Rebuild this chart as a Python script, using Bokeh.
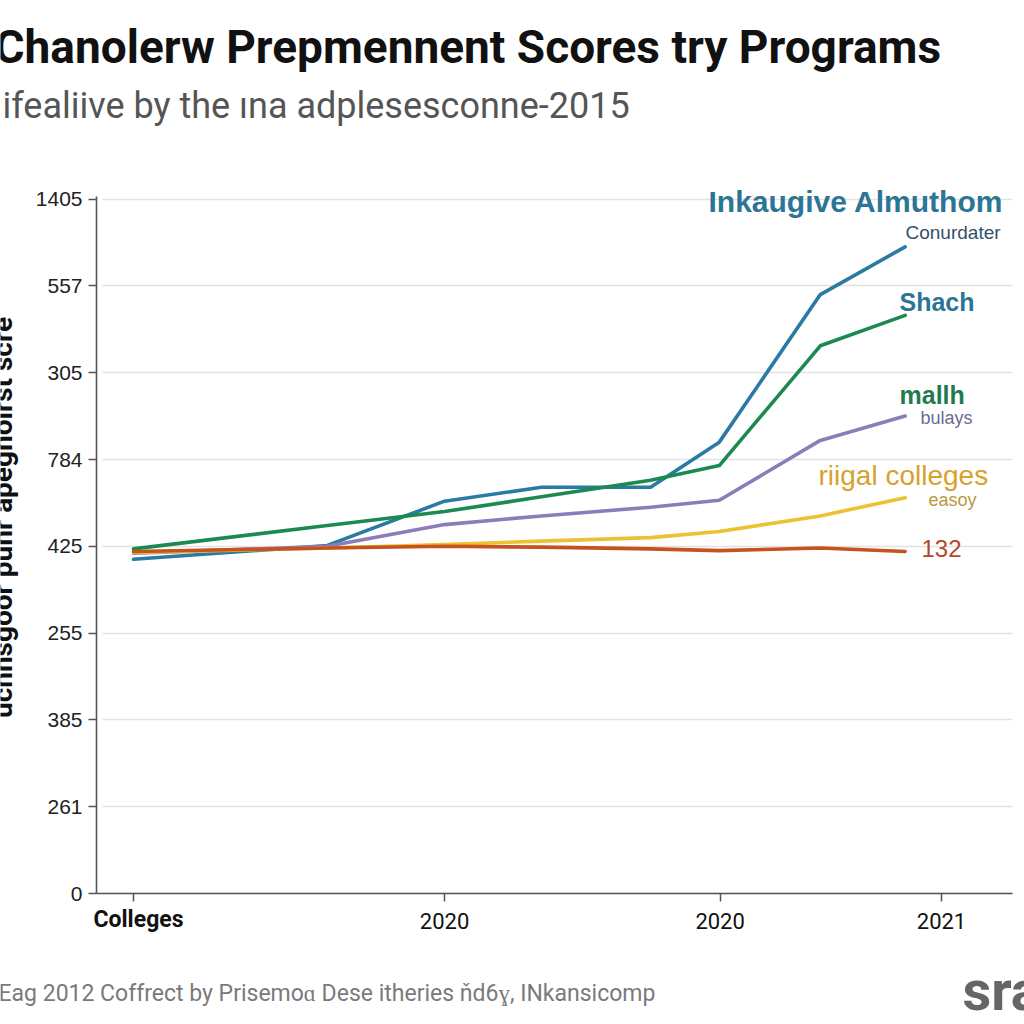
from bokeh.plotting import figure
from bokeh.models import Label, FixedTicker, Range1d
from bokeh.embed import file_html
from bokeh.resources import INLINE
import math

# ---------------- data ----------------
x_pos = [0, 24, 38.5, 50.5, 64, 72.5, 85, 95.5]
x_tick_pos = [0, 38.5, 72.6, 100]
x_tick_labels = ["Colleges", "2020", "2020", "2021"]
y_tick_pos = [0, 1, 2, 3, 4, 5, 6, 7, 8]
y_tick_labels = ["0", "261", "385", "255", "425", "784", "305", "557", "1405"]

blue = [3.85, 4.01, 4.52, 4.68, 4.68, 5.20, 6.90, 7.45]
green = [3.97, 4.24, 4.40, 4.57, 4.76, 4.93, 6.31, 6.66]
purple = [3.92, 4.00, 4.25, 4.35, 4.45, 4.53, 5.22, 5.50]
yellow = [3.93, 3.98, 4.02, 4.06, 4.10, 4.17, 4.35, 4.56]
red = [3.94, 3.98, 4.00, 3.99, 3.97, 3.95, 3.98, 3.94]

series = [
    ("blue", blue, "#2b7aa3"),
    ("green", green, "#1c8a50"),
    ("purple", purple, "#8b7db9"),
    ("yellow", yellow, "#ebc232"),
    ("red", red, "#c4531f"),
]

title = "Chanolerw Prepmennent Scores try Programs"
subtitle = "ifealiive by the \u0131na adplesesconne-2015"
y_label = "uchnsgoor punr apegnoirst scre"
footer = "Eag 2012 Coffrect by Prisemo\u0251 Dese itheries \u0148d6\u0263, INkansicomp"

# ---------------- layout (canvas pixels) ----------------
W, H = 1024, 1024
X0_PX, X_SCALE = 133.0, 8.08      # pixel of x=0, pixels per x unit
Y0_PX, Y_SCALE = 893.0, 86.8      # pixel of y=0, pixels per y unit
AX_LEFT_PX, AX_RIGHT_PX, AX_TOP_PX = 96.0, 1012.0, 196.0


def dx(px):
    return (px - X0_PX) / X_SCALE


def dy(py):
    return (Y0_PX - py) / Y_SCALE


p = figure(width=W, height=H, output_backend="svg", toolbar_location=None,
           title_location=None,
           x_range=Range1d(dx(0), dx(W)), y_range=Range1d(dy(H), dy(0)),
           min_border=0, min_border_left=0, min_border_right=0,
           min_border_top=0, min_border_bottom=0)
p.outline_line_color = None
p.background_fill_color = "white"
p.border_fill_color = "white"

for name, vals, col in series:
    p.line(x_pos, vals, line_color=col, line_width=3.6, line_join="round", line_cap="round")

p.xgrid.grid_line_color = None
p.ygrid.grid_line_color = "#e2e2e2"
p.ygrid.grid_line_width = 1.5
p.ygrid.ticker = FixedTicker(ticks=y_tick_pos)
g = p.ygrid[0]
if "cross_bounds" in g.properties():
    g.cross_bounds = (dx(AX_LEFT_PX + 6), dx(AX_RIGHT_PX))

ya = p.yaxis[0]
ya.fixed_location = dx(AX_LEFT_PX)
ya.bounds = (0, dy(AX_TOP_PX))
ya.ticker = FixedTicker(ticks=y_tick_pos)
ya.major_label_overrides = {t: l for t, l in zip(y_tick_pos, y_tick_labels)}
ya.minor_tick_line_color = None
ya.major_tick_out = 8
ya.major_tick_in = 0
ya.axis_line_color = "#555555"
ya.axis_line_width = 1.6
ya.major_tick_line_color = "#555555"
ya.major_tick_line_width = 1.5
ya.major_label_text_font = "Liberation Sans"
ya.major_label_text_font_size = "21px"
ya.major_label_text_color = "#222222"
ya.major_label_standoff = 6

xa = p.xaxis[0]
xa.fixed_location = 0
xa.bounds = (dx(AX_LEFT_PX), dx(AX_RIGHT_PX))
xa.ticker = FixedTicker(ticks=x_tick_pos)
xa.major_label_overrides = {t: (l if i > 0 else "") for i, (t, l) in enumerate(zip(x_tick_pos, x_tick_labels))}
xa.minor_tick_line_color = None
xa.major_tick_out = 8
xa.major_tick_in = 0
xa.axis_line_color = "#555555"
xa.axis_line_width = 1.6
xa.major_tick_line_color = "#555555"
xa.major_tick_line_width = 1.5
xa.major_label_text_font = "Roboto"
xa.major_label_text_font_size = "22px"
xa.major_label_text_color = "#111111"
xa.major_label_standoff = 11


def add_text(text, px, py, size, color, bold=False, align="left", baseline="middle",
             font="Liberation Sans", angle=0.0):
    # px, py: canvas pixel positions (frame == canvas), screen units from bottom-left
    p.add_layout(Label(x=px, y=H - py, x_units="screen", y_units="screen",
                       text=text, text_font_size=f"{size}px", text_color=color,
                       text_font_style="bold" if bold else "normal",
                       text_align=align, text_baseline=baseline, text_font=font,
                       angle=angle))


def add_base(text, px, base_py, size, color, **kw):
    # place text by its visual baseline (compensates the renderer's baseline offset)
    add_text(text, px, base_py - 0.4 * size, size, color, baseline="alphabetic", **kw)


add_base(title, -6, 65, 46, "#111111", bold=True, font="Roboto")
add_base(subtitle, 2, 120, 36, "#555555", font="Roboto")
add_text(y_label, 2, 517, 28, "#111111", bold=True, align="center",
         baseline="alphabetic", angle=math.pi / 2, font="Roboto")
add_base("Colleges", 93, 928, 23, "#111111", bold=True, font="Roboto")

add_text("Inkaugive Almuthom", 708, 201, 30, "#2b7597", bold=True)
add_text("Conurdater", 905, 232, 19, "#34506a")
add_text("Shach", 899, 301, 25, "#2b7597", bold=True)
add_text("mallh", 899, 394, 25, "#1f7a4f", bold=True)
add_text("bulays", 920, 417, 18, "#6c6a98")
add_text("riigal colleges", 818, 475, 28, "#d6a22e")
add_text("easoy", 928, 499, 18, "#b89a40")
add_text("132", 921, 548, 24, "#b5462a")

add_base(footer, -2, 1002, 23, "#7a7a7a", font="Roboto")
add_base("sra", 962, 1013, 56, "#666666", bold=True, font="Roboto")

open("out.html", "w").write(file_html(p, INLINE))
